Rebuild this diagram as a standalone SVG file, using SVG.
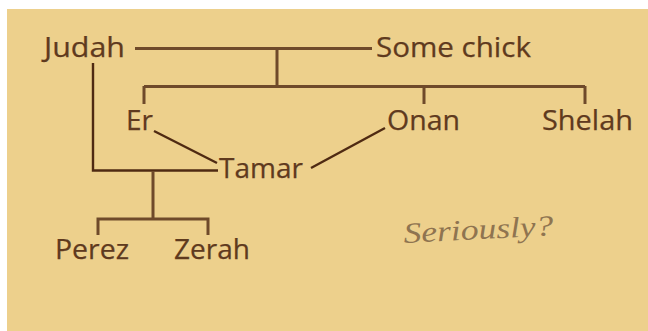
<svg xmlns="http://www.w3.org/2000/svg" width="648" height="331" viewBox="0 0 648 331">
<style>
.n{font-family:"Open Sans","Noto Sans",sans-serif;font-size:28px;fill:#5f3a1e;stroke:#5f3a1e;stroke-width:.25}
.a{fill:none;stroke:#6f4a2a;stroke-width:3}
.b{fill:none;stroke:#4f2a12;stroke-width:2.4}
.h{font-family:"Liberation Serif",serif;font-style:italic;font-size:29px;fill:#8f7450}
</style>
<rect x="0" y="0" width="648" height="331" fill="#fff"/>
<rect x="7" y="9" width="641" height="322" fill="#edd08c"/>
<g id="connectors">
<path class="a" d="M135 48.500H372M277 48.500V86M144 86.500H585M144 86V104M424 86V104M585 86V104"/>
<path class="b" d="M93 63V170.500H218M154 131L217 163M385 128L311 168"/>
<path class="a" d="M153 171V218M98 235V219H208V235"/>
</g>
<g id="judah"><text class="n" x="44" y="57" textLength="81" lengthAdjust="spacingAndGlyphs">Judah</text></g>
<g id="some-chick"><text class="n" x="376" y="57" textLength="155" lengthAdjust="spacingAndGlyphs">Some chick</text></g>
<g id="er"><text class="n" x="126" y="130" textLength="27" lengthAdjust="spacingAndGlyphs">Er</text></g>
<g id="onan"><text class="n" x="387" y="130" textLength="73" lengthAdjust="spacingAndGlyphs">Onan</text></g>
<g id="shelah"><text class="n" x="542" y="130" textLength="91" lengthAdjust="spacingAndGlyphs">Shelah</text></g>
<g id="tamar"><text class="n" x="219" y="178" textLength="84" lengthAdjust="spacingAndGlyphs">Tamar</text></g>
<g id="perez"><text class="n" x="55" y="259" textLength="74" lengthAdjust="spacingAndGlyphs">Perez</text></g>
<g id="zerah"><text class="n" x="174" y="259" textLength="76" lengthAdjust="spacingAndGlyphs">Zerah</text></g>
<text class="h" x="404" y="243" textLength="150" lengthAdjust="spacingAndGlyphs" transform="rotate(-3 404 243)">Seriously?</text>
</svg>
